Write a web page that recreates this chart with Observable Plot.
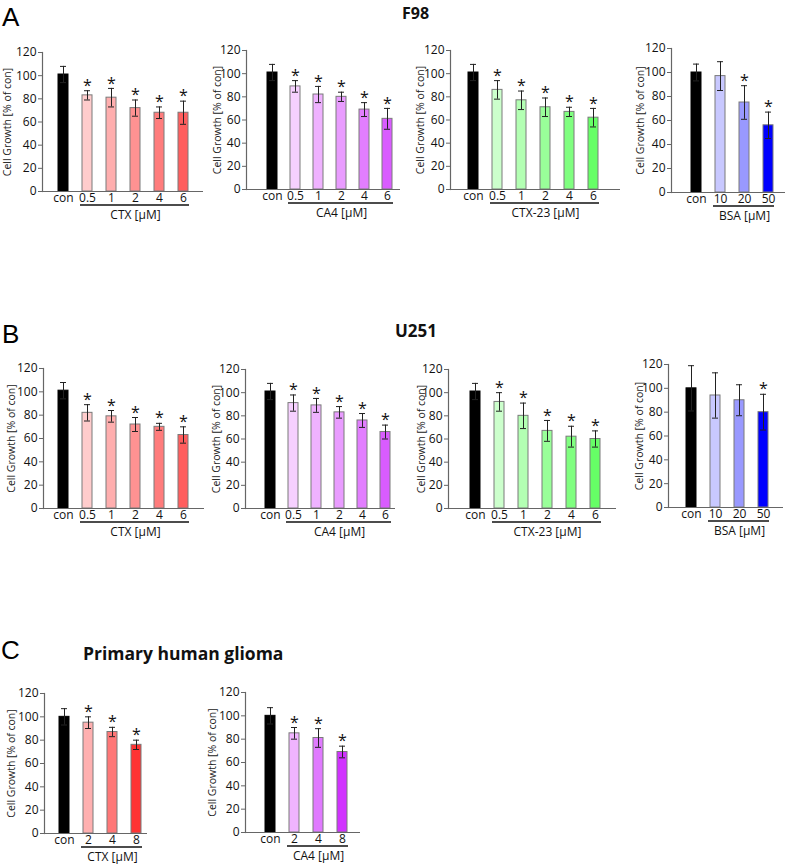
<!DOCTYPE html>
<html>
<head>
<meta charset="utf-8">
<script src="https://cdn.jsdelivr.net/npm/d3@7"></script>
<script src="https://cdn.jsdelivr.net/npm/@observablehq/plot@0.6"></script>
<style>
  html, body { margin: 0; padding: 0; background: #fff; }
  #root { position: relative; width: 787px; height: 866px; overflow: hidden; font-family: "Open Sans", Lato, sans-serif; color: #111; }
  .pl { position: absolute; }
  .pl g[aria-label="y-axis tick label"], .pl g[aria-label="x-axis tick label"] { font-size: 12px; }
  .letter { position: absolute; font-family: "Liberation Sans", Arial, sans-serif; font-size: 26px; line-height: 1; color: #000; }
  .title { position: absolute; font-family: "Open Sans", Lato, sans-serif; font-weight: 700; color: #111; line-height: 1; white-space: nowrap; }
</style>
</head>
<body>
<div id="root"></div>
<script>
// ---------- data ----------
const yTitle = "Cell Growth [% of con]";
const yTicks = [0, 20, 40, 60, 80, 100, 120];

const dosesMain = ["con", "0.5", "1", "2", "4", "6"];
const dosesBSA = ["con", "10", "20", "50"];
const dosesPrimary = ["con", "2", "4", "8"];

const labelCTX = "CTX [µM]";
const labelCA4 = "CA4 [µM]";
const labelCTX23 = "CTX-23 [µM]";
const labelBSA = "BSA [µM]";

// F98
const f98CtxMean = [101, 83, 81, 72, 68, 68];
const f98CtxErr  = [7, 4, 8, 7, 5, 10];
const f98CtxSig  = [0, 1, 1, 1, 1, 1];
const f98Ca4Mean = [101, 89, 82, 80, 69, 61];
const f98Ca4Err  = [7, 5, 7, 4, 6, 9];
const f98Ca4Sig  = [0, 1, 1, 1, 1, 1];
const f98Ctx23Mean = [101, 86, 77, 71, 67, 62];
const f98Ctx23Err  = [7, 8, 8, 8, 4, 8];
const f98Ctx23Sig  = [0, 1, 1, 1, 1, 1];
const f98BsaMean = [100, 97, 75, 56];
const f98BsaErr  = [7, 12, 14, 11];
const f98BsaSig  = [0, 0, 1, 1];

// U251
const u251CtxMean = [101, 82, 79, 72, 70, 63];
const u251CtxErr  = [7, 7, 5, 6, 3, 7];
const u251CtxSig  = [0, 1, 1, 1, 1, 1];
const u251Ca4Mean = [101, 91, 89, 83, 76, 66];
const u251Ca4Err  = [7, 7, 6, 5, 6, 6];
const u251Ca4Sig  = [0, 1, 1, 1, 1, 1];
const u251Ctx23Mean = [101, 92, 80, 67, 62, 60];
const u251Ctx23Err  = [7, 8, 11, 9, 9, 7];
const u251Ctx23Sig  = [0, 1, 1, 1, 1, 1];
const u251BsaMean = [100, 94, 90, 80];
const u251BsaErr  = [19, 19, 13, 15];
const u251BsaSig  = [0, 0, 0, 1];

// Primary human glioma
const primCtxMean = [100, 95, 87, 76];
const primCtxErr  = [7, 5, 4, 4];
const primCtxSig  = [0, 1, 1, 1];
const primCa4Mean = [100, 85, 81, 69];
const primCa4Err  = [7, 5, 8, 5];
const primCa4Sig  = [0, 1, 1, 1];

// colours
const colCTX = ["#000000", "#ffcccc", "#ffaeae", "#ff9292", "#ff7c7c", "#ff5e5e"];
const colCA4 = ["#000000", "#f6d0ff", "#efb2ff", "#e99cff", "#e27eff", "#d95cff"];
const colCTX23 = ["#000000", "#ccffcc", "#b3ffb3", "#99ff99", "#80ff80", "#66ff66"];
const colBSA = ["#000000", "#c8c8ff", "#9999ff", "#0000ff"];
const colCTXprim = ["#000000", "#ffb0b0", "#ff7777", "#ff3333"];
const colCA4prim = ["#000000", "#f0b4ff", "#e07aff", "#d133ff"];

// ---------- layout ----------
const root = document.getElementById("root");

function addText(cls, txt, left, top, size) {
  const d = document.createElement("div");
  d.className = cls;
  d.textContent = txt;
  d.style.left = left + "px";
  d.style.top = top + "px";
  if (size) d.style.fontSize = size + "px";
  root.appendChild(d);
  return d;
}

function panel(p) {
  const ML = 50, MT = 12, MB = 34, MR = 2;
  const n = p.cats.length;
  const width = ML + (p.xEnd - p.ax) + MR;
  const height = MT + (p.y0 - p.y120) + MB;
  const svgLeft = p.ax - ML, svgTop = p.y120 - MT;
  const r0 = p.c0 - svgLeft - p.step / 2;
  const r1 = r0 + n * p.step;
  const pi = 1 - 10 / p.step;
  const data = p.cats.map((c, i) => ({c, v: p.mean[i], e: p.err[i], s: p.sig[i], col: p.colors[i]}));
  const midCat = p.cats[1 + Math.floor((n - 1) / 2)];
  const under = [{y: 0, a: p.cats[1], b: p.cats[n - 1], t: p.label, m: midCat}];
  const chart = Plot.plot({
    width, height,
    marginLeft: ML, marginTop: MT, marginBottom: MB, marginRight: MR,
    style: {fontFamily: "'Open Sans', Lato, sans-serif", fontSize: "12px", background: "transparent", overflow: "visible", color: "#111"},
    x: {type: "band", domain: p.cats, range: [r0, r1], paddingInner: pi, paddingOuter: pi / 2, align: 0.5, axis: null},
    y: {domain: [0, 120], axis: null},
    color: {type: "identity"},
    marks: [
      Plot.barY(data, {x: "c", y: "v", fill: "col", stroke: d => d.c === "con" ? "#000" : "#7a7a7a", strokeWidth: 1}),
      Plot.ruleX(data, {x: "c", y1: d => d.v - d.e, y2: d => d.v + d.e, stroke: "#222", strokeWidth: 1}),
      Plot.tickY(data, {x: "c", y: d => d.v + d.e, stroke: "#222", strokeWidth: 1, insetLeft: 2, insetRight: 2}),
      Plot.tickY(data, {x: "c", y: d => d.v - d.e, stroke: "#222", strokeWidth: 1, insetLeft: 2, insetRight: 2}),
      Plot.text(data.filter(d => d.s), {x: "c", y: d => d.v + d.e, text: () => "*", fontSize: 16, dy: -5, fill: "#111"}),
      Plot.ruleY([0], {stroke: "#666", strokeWidth: 1.2}),
      Plot.frame({anchor: "left", stroke: "#666", strokeWidth: 1.2}),
      Plot.axisY({ticks: yTicks, tickSize: 4, tickPadding: 2, fontSize: 12, label: null, stroke: "#666", fill: "#111"}),
      Plot.axisX({tickSize: 0, tickPadding: 2, fontSize: 12, label: null, fill: "#111"}),
      Plot.ruleY(under, {y: "y", x1: "a", x2: "b", dy: 13.5, stroke: "#111", strokeWidth: 1.4, insetLeft: -2, insetRight: -1}),
      Plot.text(under, {x: "m", y: "y", text: "t", dy: 23.5, fontSize: 12, fill: "#111"}),
      Plot.text([yTitle], {frameAnchor: "left", textAnchor: "middle", lineAnchor: "middle", rotate: -90, dx: -p.dist, fontSize: 10.5, text: d => d, fill: "#222"})
    ]
  });
  chart.classList.add("pl");
  chart.style.left = svgLeft + "px";
  chart.style.top = svgTop + "px";
  root.appendChild(chart);
}

// Row A: F98
panel({cats: dosesMain, mean: f98CtxMean, err: f98CtxErr, sig: f98CtxSig, colors: colCTX, label: labelCTX,
  ax: 42, y120: 52, y0: 191, xEnd: 203, c0: 63, step: 24, dist: 35});
panel({cats: dosesMain, mean: f98Ca4Mean, err: f98Ca4Err, sig: f98Ca4Sig, colors: colCA4, label: labelCA4,
  ax: 246, y120: 50, y0: 189, xEnd: 400, c0: 271, step: 23.4, dist: 29});
panel({cats: dosesMain, mean: f98Ctx23Mean, err: f98Ctx23Err, sig: f98Ctx23Sig, colors: colCTX23, label: labelCTX23,
  ax: 450, y120: 50, y0: 189, xEnd: 620, c0: 473, step: 24, dist: 30});
panel({cats: dosesBSA, mean: f98BsaMean, err: f98BsaErr, sig: f98BsaSig, colors: colBSA, label: labelBSA,
  ax: 671, y120: 48, y0: 192, xEnd: 785, c0: 695, step: 24.3, dist: 31});

// Row B: U251
panel({cats: dosesMain, mean: u251CtxMean, err: u251CtxErr, sig: u251CtxSig, colors: colCTX, label: labelCTX,
  ax: 43, y120: 368, y0: 508, xEnd: 204, c0: 63, step: 24, dist: 31.5});
panel({cats: dosesMain, mean: u251Ca4Mean, err: u251Ca4Err, sig: u251Ca4Sig, colors: colCA4, label: labelCA4,
  ax: 245, y120: 369, y0: 508, xEnd: 395, c0: 268, step: 23.8, dist: 29});
panel({cats: dosesMain, mean: u251Ctx23Mean, err: u251Ctx23Err, sig: u251Ctx23Sig, colors: colCTX23, label: labelCTX23,
  ax: 448, y120: 369, y0: 508, xEnd: 616, c0: 473, step: 24.6, dist: 27});
panel({cats: dosesBSA, mean: u251BsaMean, err: u251BsaErr, sig: u251BsaSig, colors: colBSA, label: labelBSA,
  ax: 668, y120: 364, y0: 507, xEnd: 783, c0: 690, step: 24.3, dist: 29});

// Row C: primary human glioma
panel({cats: dosesPrimary, mean: primCtxMean, err: primCtxErr, sig: primCtxSig, colors: colCTXprim, label: labelCTX,
  ax: 44, y120: 693, y0: 833, xEnd: 147, c0: 63, step: 24.7, dist: 32.5});
panel({cats: dosesPrimary, mean: primCa4Mean, err: primCa4Err, sig: primCa4Sig, colors: colCA4prim, label: labelCA4,
  ax: 245, y120: 692, y0: 832, xEnd: 360, c0: 270, step: 24, dist: 32.5});

// Panel letters and titles
addText("letter", "A", 2, 4);
addText("letter", "B", 2, 321);
addText("letter", "C", 1, 637);
addText("title", "F98", 402, 5, 16);
addText("title", "U251", 395, 322, 17);
addText("title", "Primary human glioma", 83, 645, 17.5);
</script>
</body>
</html>
